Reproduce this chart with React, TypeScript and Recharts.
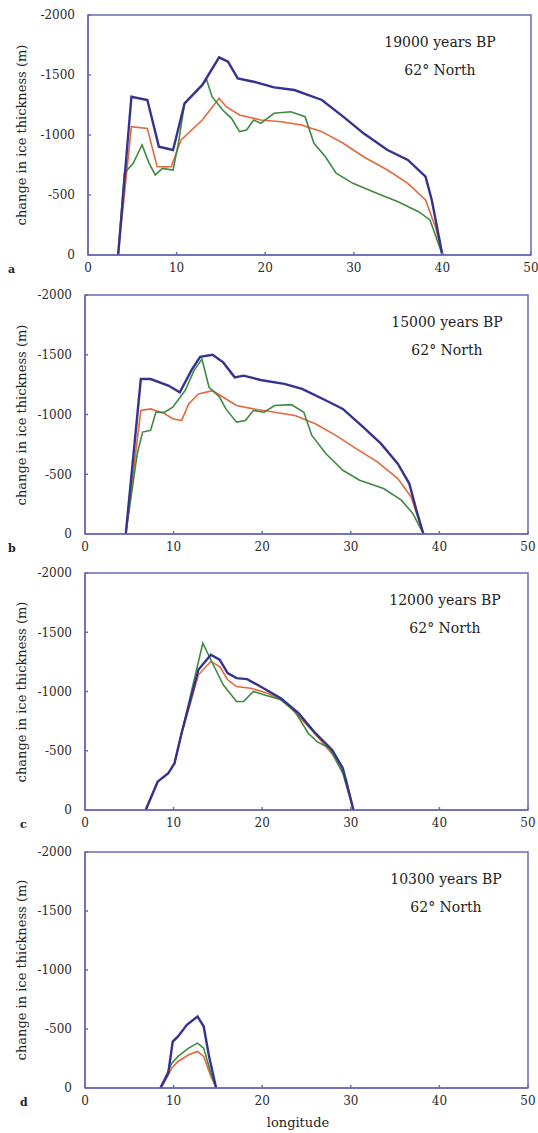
import { LineChart, Line, XAxis, YAxis, ReferenceArea } from 'recharts';

type Pair = [number, number];

// longitude (deg), change in ice thickness (m)
const aBlue: Pair[] = [
  [3.4, 0], [4.9, -1319], [6.7, -1292], [8.0, -903], [9.6, -875], [10.9, -1264], [12.9, -1417],
  [14.8, -1647], [15.8, -1611], [16.9, -1472], [18.7, -1444], [21, -1397], [23.3, -1375],
  [26.4, -1292], [28.8, -1153], [31.1, -1014], [33.8, -875], [36.1, -792], [38.1, -653],
  [38.8, -458], [40, 0],
];
const aRed: Pair[] = [
  [3.4, 0], [4.9, -1069], [6.7, -1055], [7.8, -736], [9.4, -736], [10.5, -958], [12.9, -1125],
  [14.8, -1306], [15.6, -1236], [17.1, -1167], [19.5, -1125], [21.8, -1111], [24.1, -1083],
  [26.4, -1028], [28.8, -931], [31.1, -819], [33.8, -708], [36.1, -597], [38.1, -458],
  [39.2, -236], [40, 0],
];
const aGreen: Pair[] = [
  [3.4, 0], [4.1, -681], [5.1, -764], [6.1, -917], [6.9, -764], [7.6, -667], [8.4, -722],
  [9.6, -708], [10.2, -931], [10.9, -1264], [12.1, -1361], [13.4, -1458], [14, -1319],
  [15.2, -1208], [16.2, -1139], [17.1, -1028], [17.9, -1042], [18.7, -1125], [19.5, -1097],
  [21, -1181], [22.9, -1194], [24.5, -1153], [25.5, -931], [26.8, -819], [28, -681],
  [29.9, -597], [32.6, -514], [35, -444], [37.3, -361], [38.6, -292], [40, 0],
];

const bBlue: Pair[] = [
  [4.6, 0], [6.3, -1297], [7.4, -1297], [9.4, -1242], [10.7, -1186], [12.1, -1381], [13, -1483],
  [14.4, -1500], [15.6, -1436], [16.9, -1311], [17.9, -1325], [19.8, -1289], [22.5, -1256],
  [24.5, -1214], [27.2, -1117], [29.1, -1047], [31.4, -894], [33.4, -756], [35.3, -589],
  [36.6, -422], [37.4, -200], [38.2, 0],
];
const bRed: Pair[] = [
  [4.6, 0], [6.3, -1033], [7.4, -1047], [9, -1006], [9.9, -964], [10.9, -950], [11.7, -1089],
  [12.8, -1172], [14.4, -1200], [15.6, -1144], [17.1, -1075], [19, -1047], [21.4, -1019],
  [23.7, -992], [26, -922], [28.3, -825], [30.6, -714], [33, -603], [35.3, -464],
  [36.8, -311], [38.2, 0],
];
const bGreen: Pair[] = [
  [4.6, 0], [5.9, -672], [6.5, -853], [7.4, -867], [8, -1019], [9, -1019], [9.9, -1061],
  [11.3, -1200], [12.3, -1367], [13.2, -1464], [14, -1228], [15.2, -1144], [15.9, -1047],
  [17.1, -936], [18.1, -950], [19, -1033], [20.2, -1019], [21.4, -1075], [23.3, -1083],
  [24.7, -1019], [25.6, -825], [27.2, -672], [29.1, -533], [31, -450], [33.7, -381],
  [35.7, -283], [37, -172], [38.2, 0],
];

const cBlue: Pair[] = [
  [6.85, 0], [8.2, -239], [9.4, -310], [10.1, -394], [10.9, -648], [11.9, -930], [12.8, -1183],
  [14.2, -1310], [15.2, -1268], [16.1, -1155], [17.1, -1113], [18.3, -1104], [19.8, -1042],
  [22.1, -944], [24.1, -817], [26, -648], [27.9, -507], [29.1, -352], [30.3, 0],
];
const cRed: Pair[] = [
  [6.85, 0], [8.2, -239], [9.4, -310], [10.1, -394], [10.9, -648], [11.9, -900], [12.8, -1141],
  [14.2, -1254], [15.2, -1211], [16.1, -1099], [17.1, -1042], [18.7, -1028], [20.6, -986],
  [22.5, -916], [24.5, -761], [26.4, -606], [28.3, -437], [29.5, -254], [30.3, 0],
];
const cGreen: Pair[] = [
  [6.85, 0], [8.2, -239], [9.4, -310], [10.1, -394], [10.9, -648], [13.3, -1408], [14.2, -1268],
  [15.6, -1056], [17.1, -916], [17.9, -916], [19, -1000], [20.2, -972], [22.1, -930],
  [23.7, -831], [25.2, -648], [26.2, -577], [27.6, -521], [29.1, -310], [30.3, 0],
];

const dBlue: Pair[] = [
  [8.5, 0], [9.4, -127], [9.9, -394], [10.5, -437], [11.5, -535], [12.7, -606], [13.4, -521],
  [14, -268], [14.8, 0],
];
const dGreen: Pair[] = [
  [8.5, 0], [9.8, -211], [10.5, -268], [11.7, -338], [12.7, -380], [13.4, -338], [14.2, -127],
  [14.8, 0],
];
const dRed: Pair[] = [
  [8.6, 0], [9.8, -169], [10.5, -225], [11.7, -282], [12.7, -310], [13.4, -268], [14.2, -99],
  [14.8, 0],
];

const xTicks = [0, 10, 20, 30, 40, 50];
const yTicks = [-2000, -1500, -1000, -500, 0];

const FRAME = '#6a6ab6';
const BLUE = '#34348e';
const RED = '#e2683e';
const GREEN = '#3f8a42';
const FONT = '"DejaVu Serif", serif';

const pts = (arr: Pair[]) => arr.map(([lon, v]) => ({ lon, v }));

const panels = [
  { letter: 'a', title: '19000 years BP', top: 15, bottom: 255, left: 88, right: 531, tx: 440, lx: 8, blue: aBlue, red: aRed, green: aGreen },
  { letter: 'b', title: '15000 years BP', top: 295, bottom: 534, left: 85, right: 528, tx: 447, lx: 8, blue: bBlue, red: bRed, green: bGreen },
  { letter: 'c', title: '12000 years BP', top: 573, bottom: 810, left: 85, right: 528, tx: 445, lx: 20, blue: cBlue, red: cRed, green: cGreen },
  { letter: 'd', title: '10300 years BP', top: 852, bottom: 1088, left: 85, right: 528, tx: 446, lx: 20, blue: dBlue, red: dRed, green: dGreen },
];

const tickStyle = { fontFamily: FONT, fontSize: 12, fill: '#2a2a2a' };

const App = () => {
  return (
    <div style={{ position: 'absolute', left: 0, top: 0, width: 538, height: 1133, background: '#fff' }}>
      {panels.map((p) => {
        const h = p.bottom - p.top + 40;
        return (
          <div key={p.letter}>
            <div style={{ position: 'absolute', left: 0, top: p.top - 10 }}>
              <LineChart
                width={538}
                height={h}
                margin={{ top: 10, right: 538 - p.right, left: 0, bottom: 0 }}
              >
                <XAxis
                  dataKey="lon"
                  type="number"
                  domain={[0, 50]}
                  ticks={xTicks}
                  allowDataOverflow
                  height={30}
                  stroke={FRAME}
                  strokeWidth={1.5}
                  tickSize={-3}
                  tickMargin={11}
                  tick={tickStyle}
                />
                <YAxis
                  domain={[-2000, 0]}
                  reversed
                  ticks={yTicks}
                  allowDataOverflow
                  width={p.left}
                  stroke={FRAME}
                  strokeWidth={1.5}
                  tickSize={-3}
                  tickMargin={16}
                  tick={tickStyle}
                />
                <ReferenceArea
                  x1={0}
                  x2={50}
                  y1={-2000}
                  y2={0}
                  fill="none"
                  stroke={FRAME}
                  strokeWidth={1.5}
                  ifOverflow="visible"
                />
                <Line data={pts(p.red)} dataKey="v" stroke={RED} strokeWidth={1.6} dot={false} isAnimationActive={false} />
                <Line data={pts(p.green)} dataKey="v" stroke={GREEN} strokeWidth={1.6} dot={false} isAnimationActive={false} />
                <Line data={pts(p.blue)} dataKey="v" stroke={BLUE} strokeWidth={2.4} dot={false} isAnimationActive={false} />
              </LineChart>
            </div>
            <div
              style={{
                position: 'absolute', left: 21, top: (p.top + p.bottom) / 2,
                transform: 'translate(-50%, -50%) rotate(-90deg)', whiteSpace: 'nowrap',
                fontFamily: FONT, fontSize: 13, color: '#222',
              }}
            >
              change in ice thickness (m)
            </div>
            <div
              style={{
                position: 'absolute', left: p.tx, top: p.top + 27, transform: 'translate(-50%, -50%)',
                whiteSpace: 'nowrap', fontFamily: FONT, fontSize: 14, color: '#222',
              }}
            >
              {p.title}
            </div>
            <div
              style={{
                position: 'absolute', left: p.tx, top: p.top + 55, transform: 'translate(-50%, -50%)',
                whiteSpace: 'nowrap', fontFamily: FONT, fontSize: 14, color: '#222',
              }}
            >
              62° North
            </div>
            <div
              style={{
                position: 'absolute', left: p.lx, top: p.bottom + 14, transform: 'translate(0, -50%)',
                fontFamily: FONT, fontSize: 11, fontWeight: 'bold', color: '#222',
              }}
            >
              {p.letter}
            </div>
          </div>
        );
      })}
      <div
        style={{
          position: 'absolute', left: 298, top: 1122, transform: 'translate(-50%, -50%)',
          fontFamily: FONT, fontSize: 13, color: '#222', whiteSpace: 'nowrap',
        }}
      >
        longitude
      </div>
    </div>
  );
};

export default App;
